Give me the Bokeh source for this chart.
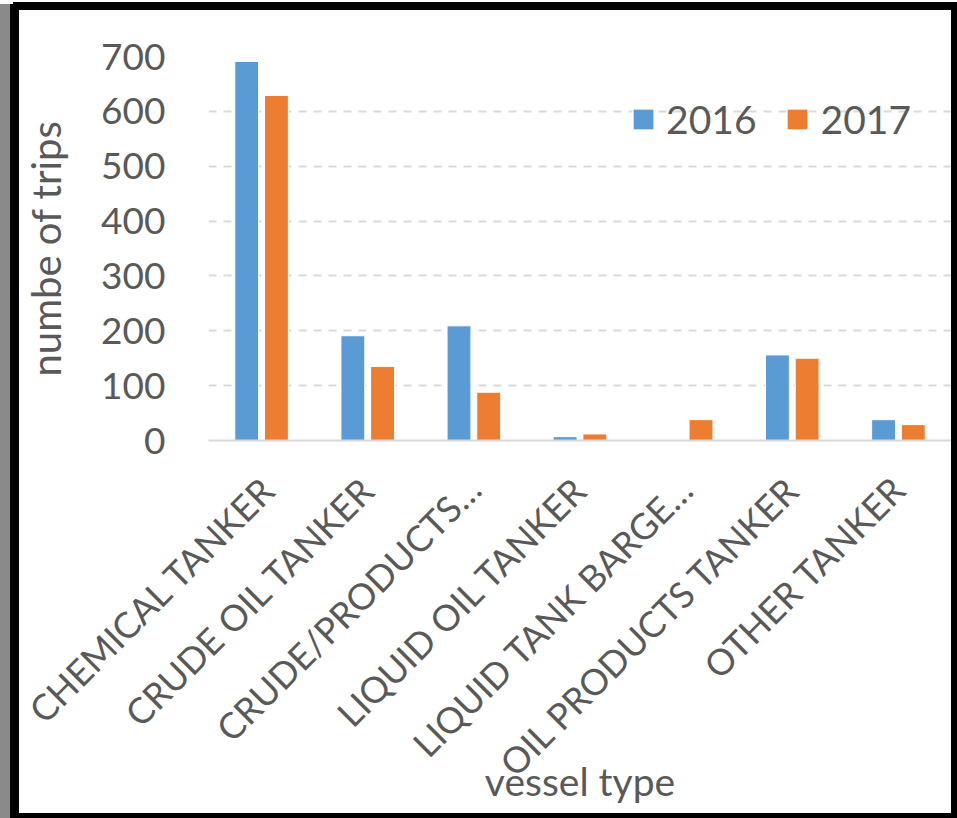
import math
from bokeh.plotting import figure
from bokeh.models import FactorRange, Range1d, FixedTicker, Legend, LegendItem
from bokeh.transform import dodge
from bokeh.models import ColumnDataSource
from bokeh.embed import file_html
from bokeh.resources import INLINE

categories = ["CHEMICAL TANKER", "CRUDE OIL TANKER", "CRUDE/PRODUCTS…",
              "LIQUID OIL TANKER", "LIQUID TANK BARGE…", "OIL PRODUCTS TANKER",
              "OTHER TANKER"]
years = ["2016", "2017"]
trips_2016 = [691, 191, 209, 7, 0, 156, 38]
trips_2017 = [629, 135, 88, 12, 38, 150, 29]
y_ticks = [0, 100, 200, 300, 400, 500, 600, 700]

FONT = "Lato"
TXT = "#595959"
BLUE = "#5B9BD5"
ORANGE = "#ED7D31"

src = ColumnDataSource(dict(cat=categories, y2016=trips_2016, y2017=trips_2017))

p = figure(x_range=FactorRange(*categories), y_range=Range1d(0, 700),
           width=932, height=803, output_backend="svg", toolbar_location=None,
           min_border_left=187, min_border_right=0, min_border_top=46,
           min_border_bottom=373)
# picture frame: black edges drawn as shadows outside the plot box
p.styles = {"margin-left": "19px", "margin-top": "10px",
            "box-shadow": "0 0 0 6px black, -3px 0 0 6px black, "
                          "0 -2px 0 6px black, -13px 0 0 6px #8a8a8a"}
p.outline_line_color = None

r1 = p.vbar(x=dodge("cat", -0.14, range=p.x_range), top="y2016", width=0.225,
            source=src, fill_color=BLUE, line_color="white", line_width=1)
r2 = p.vbar(x=dodge("cat", 0.14, range=p.x_range), top="y2017", width=0.225,
            source=src, fill_color=ORANGE, line_color="white", line_width=1)

p.xgrid.grid_line_color = None
p.ygrid.grid_line_color = "#d9d9d9"
p.ygrid.grid_line_width = 2
p.ygrid.grid_line_dash = "8 7"

p.yaxis.ticker = FixedTicker(ticks=y_ticks)
p.yaxis.axis_line_color = None
p.yaxis.major_tick_line_color = None
p.yaxis.minor_tick_line_color = None
p.yaxis.major_label_text_font = FONT
p.yaxis.major_label_text_font_size = "37px"
p.yaxis.major_label_text_color = TXT
p.yaxis.major_label_standoff = 37
p.yaxis.axis_label = "numbe of trips"
p.yaxis.axis_label_text_font = FONT
p.yaxis.axis_label_text_font_size = "40px"
p.yaxis.axis_label_text_font_style = "normal"
p.yaxis.axis_label_text_color = TXT
p.yaxis.axis_label_standoff = 28

p.xaxis.axis_line_color = "#d9d9d9"
p.xaxis.axis_line_width = 2
p.xaxis.major_tick_line_color = None
p.xaxis.minor_tick_line_color = None
p.xaxis.major_label_orientation = math.pi / 4
p.xaxis.major_label_text_font = FONT
p.xaxis.major_label_text_font_size = "36px"
p.xaxis.major_label_text_color = TXT
p.xaxis.major_label_standoff = 36
p.xaxis.axis_label = "vessel type"
p.xaxis.axis_label_text_font = FONT
p.xaxis.axis_label_text_font_size = "39px"
p.xaxis.axis_label_text_font_style = "normal"
p.xaxis.axis_label_text_color = TXT
p.xaxis.axis_label_standoff = -45

legend = Legend(items=[LegendItem(label=years[0], renderers=[r1]),
                       LegendItem(label=years[1], renderers=[r2])],
                location="top_right", orientation="horizontal",
                label_text_font=FONT, label_text_font_size="39px",
                label_text_color=TXT, glyph_width=26, glyph_height=26,
                label_standoff=10, spacing=28, padding=0, margin=40,
                border_line_color=None, background_fill_alpha=0)
p.add_layout(legend)

open("out.html", "w").write(file_html(p, INLINE))
